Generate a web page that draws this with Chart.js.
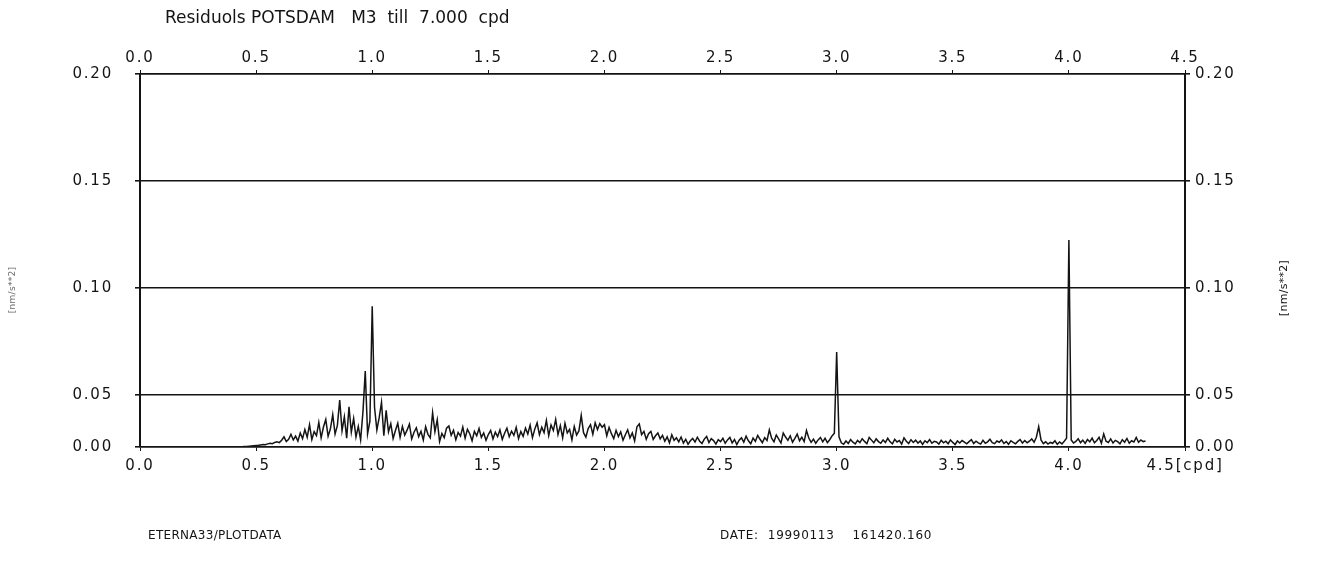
<!DOCTYPE html>
<html>
<head>
<meta charset="utf-8">
<title>Residuols POTSDAM</title>
<script src="https://cdn.jsdelivr.net/npm/chart.js@4.4.1/dist/chart.umd.min.js"></script>
<style>
  html, body { margin: 0; padding: 0; background: #fff; }
  #wrap { position: relative; width: 1325px; height: 576px; }
</style>
</head>
<body>
<div id="wrap"><canvas id="spectrum"></canvas></div>
<script>
// residual amplitude spectrum, 0.01 cpd spacing starting at 0.00 cpd  [nm/s**2]
const freqStart = 0.0;
const freqStep = 0.01;
const amplitude = [
  0, 0, 0, 0, 0, 0, 0, 0, 0, 0, 0, 0, 0, 0, 0, 0, 0, 0, 0, 0,
  0, 0, 0, 0, 0, 0, 0, 0, 0, 0, 0, 0, 0, 0, 0, 0, 0, 0, 0, 0,
  0, 0, 0, 0, .0003, .0005, .0006, .0008, .0010, .0012,
  .0014, .0016, .0020, .0024, .0022, .0030, .0036, .0032, .0044, .0050,
  .0042, .0065, .0098, .0052, .0074, .0122, .0068, .0105, .0056, .0134,
  .0081, .0168, .0094, .0215, .0072, .0148, .0110, .0236, .0088, .0192,
  .0264, .0102, .0175, .0312, .0124, .0208, .0452, .0156, .0290, .0084,
  .0386, .0142, .0275, .0096, .0198, .0068, .0335, .0612, .0126, .0248,
  .0915, .0380, .0164, .0282, .0430, .0108, .0352, .0146, .0224, .0082,
  .0158, .0228, .0092, .0198, .0115, .0162, .0220, .0078, .0142, .0185,
  .0100, .0152, .0068, .0195, .0122, .0088, .0330, .0148, .0262, .0052,
  .0130, .0090, .0182, .0202, .0112, .0160, .0070, .0140, .0105, .0192,
  .0085, .0170, .0128, .0060, .0150, .0108, .0178, .0092, .0135, .0065,
  .0120, .0160, .0078, .0142, .0100, .0165, .0072, .0132, .0180, .0098,
  .0152, .0112, .0188, .0080, .0148, .0102, .0182, .0125, .0210, .0090,
  .0172, .0232, .0118, .0190, .0138, .0255, .0110, .0212, .0158, .0265,
  .0120, .0205, .0088, .0228, .0135, .0170, .0068, .0198, .0115, .0155,
  .0304, .0138, .0095, .0178, .0215, .0122, .0232, .0168, .0225, .0190,
  .0215, .0108, .0188, .0128, .0080, .0160, .0100, .0145, .0065, .0118,
  .0165, .0088, .0135, .0058, .0195, .0222, .0118, .0150, .0075, .0128,
  .0150, .0072, .0108, .0135, .0078, .0112, .0055, .0098, .0040, .0118,
  .0064, .0088, .0050, .0096, .0038, .0074, .0026, .0060, .0082, .0048,
  .0094, .0056, .0034, .0076, .0102, .0042, .0080, .0062, .0028, .0070,
  .0052, .0084, .0036, .0068, .0092, .0040, .0072, .0024, .0066, .0088,
  .0046, .0104, .0060, .0032, .0086, .0054, .0112, .0074, .0042, .0090,
  .0062, .0164, .0084, .0050, .0116, .0078, .0038, .0134, .0096, .0064,
  .0108, .0046, .0082, .0124, .0060, .0094, .0052, .0158, .0086, .0044,
  .0076, .0036, .0068, .0092, .0050, .0084, .0042, .0070, .0106, .0132,
  .0701, .0098, .0040, .0026, .0058, .0034, .0072, .0046, .0030, .0064,
  .0042, .0080, .0054, .0032, .0092, .0066, .0040, .0078, .0052, .0036,
  .0068, .0044, .0084, .0050, .0030, .0074, .0048, .0062, .0028, .0088,
  .0056, .0034, .0070, .0044, .0066, .0038, .0058, .0026, .0060, .0042,
  .0072, .0036, .0054, .0048, .0028, .0064, .0040, .0056, .0032, .0068,
  .0044, .0024, .0058, .0038, .0062, .0046, .0030, .0052, .0070, .0034,
  .0056, .0040, .0028, .0064, .0036, .0050, .0074, .0042, .0032, .0058,
  .0046, .0068, .0034, .0052, .0026, .0060, .0044, .0030, .0054, .0072,
  .0038, .0062, .0040, .0056, .0078, .0046, .0094, .0196, .0068, .0032,
  .0050, .0028, .0044, .0036, .0060, .0026, .0048, .0030, .0056, .0084,
  .1224, .0068, .0038, .0054, .0080, .0042, .0066, .0034, .0072, .0050,
  .0086, .0040, .0062, .0094, .0036, .0126, .0056, .0044, .0078, .0038,
  .0064, .0052, .0030, .0070, .0046, .0082, .0036, .0060, .0048, .0092,
  .0046, .0068, .0052, .0058
];

const freqTicks = [0, 0.5, 1.0, 1.5, 2.0, 2.5, 3.0, 3.5, 4.0, 4.5];
const topFreqLabels = ['0.0', '0.5', '1.0', '1.5', '2.0', '2.5', '3.0', '3.5', '4.0', '4.5'];
const bottomFreqLabels = ['0.0', '0.5', '1.0', '1.5', '2.0', '2.5', '3.0', '3.5', '4.0', '4.5[cpd]'];
const ampTicks = [0, 0.05, 0.10, 0.15, 0.20];
const ampLabels = ['0.00', '0.05', '0.10', '0.15', '0.20'];

const titleText = 'Residuols POTSDAM   M3  till  7.000  cpd';
const footLeft = 'ETERNA33/PLOTDATA';
const footRight = 'DATE:  19990113    161420.160';
const unitText = '[nm/s**2]';

// the plotter squeezes the lowest 0.05 band into about half the height of the others
const BAND_TOP = 0.05;
const BAND_SHARE = 52 / 373;

class BandScale extends Chart.LinearScale {
  getPixelForValue(value) {
    if (value === null || value === undefined || isNaN(value)) return NaN;
    let dec;
    if (value <= BAND_TOP) {
      dec = (value - this.min) / (BAND_TOP - this.min) * BAND_SHARE;
    } else {
      dec = BAND_SHARE + (value - BAND_TOP) / (this.max - BAND_TOP) * (1 - BAND_SHARE);
    }
    return this.getPixelForDecimal(dec);
  }
  getValueForPixel(pixel) {
    const dec = this.getDecimalForPixel(pixel);
    if (dec <= BAND_SHARE) return this.min + dec / BAND_SHARE * (BAND_TOP - this.min);
    return BAND_TOP + (dec - BAND_SHARE) / (1 - BAND_SHARE) * (this.max - BAND_TOP);
  }
}
BandScale.id = 'band';
BandScale.defaults = {};
Chart.register(BandScale);

const points = amplitude.map((a, i) => ({
  x: Math.round((freqStart + i * freqStep) * 100) / 100,
  y: a
}));

const INK = '#141414';
const tickFont = { family: 'DejaVu Sans', size: 15 };

// texts around the frame: header, footer and unit captions
const sheetText = {
  id: 'sheetText',
  beforeDraw(chart) {
    chart.ctx.letterSpacing = '1.8px';
    chart.ctx.fillStyle = '#fff';
    chart.ctx.fillRect(0, 0, chart.width, chart.height);
  },
  afterDraw(chart) {
    const ctx = chart.ctx;
    ctx.save();
    ctx.fillStyle = INK;
    ctx.textBaseline = 'middle';
    ctx.textAlign = 'left';
    ctx.letterSpacing = '0px';
    ctx.font = '17px "DejaVu Sans"';
    ctx.fillText(titleText, 165, 19);

    ctx.letterSpacing = '0.3px';
    ctx.font = '12px "DejaVu Sans"';
    ctx.fillText(footLeft, 148, 536);
    ctx.letterSpacing = '0.7px';
    ctx.fillText(footRight, 720, 536);

    ctx.letterSpacing = '0.3px';
    ctx.textAlign = 'center';
    ctx.font = '11px "DejaVu Sans"';
    ctx.save();
    ctx.translate(1284, 288);
    ctx.rotate(-Math.PI / 2);
    ctx.fillText(unitText, 0, 0);
    ctx.restore();

    ctx.save();
    ctx.fillStyle = '#6a6a6a';
    ctx.font = '9px "DejaVu Sans"';
    ctx.translate(13, 290);
    ctx.rotate(-Math.PI / 2);
    ctx.fillText(unitText, 0, 0);
    ctx.restore();
    ctx.restore();
  }
};

function fixedTicks(values) {
  return scale => { scale.ticks = values.map(v => ({ value: v })); };
}

new Chart(document.getElementById('spectrum'), {
  type: 'line',
  data: {
    datasets: [{
      data: points,
      borderColor: INK,
      borderWidth: 1.5,
      pointRadius: 0,
      tension: 0,
      fill: false
    }]
  },
  options: {
    responsive: true,
    maintainAspectRatio: false,
    animation: false,
    parsing: false,
    layout: { padding: 0 },
    plugins: {
      legend: { display: false },
      tooltip: { enabled: false },
      title: { display: false }
    },
    scales: {
      x: {
        type: 'linear',
        position: 'bottom',
        min: 0,
        max: 4.5,
        afterBuildTicks: fixedTicks(freqTicks),
        afterFit(scale) { scale.height = 129; },
        grid: { drawOnChartArea: false, tickLength: 4, color: INK, lineWidth: 1 },
        border: { color: INK, width: 1.5 },
        ticks: {
          color: INK, font: tickFont, padding: 6, maxRotation: 0, autoSkip: false,
          callback: (v, i) => bottomFreqLabels[i]
        }
      },
      xTop: {
        type: 'linear',
        position: 'top',
        min: 0,
        max: 4.5,
        afterBuildTicks: fixedTicks(freqTicks),
        afterFit(scale) { scale.height = 74; },
        grid: { drawOnChartArea: false, tickLength: 4, color: INK, lineWidth: 1 },
        border: { color: INK, width: 1.5 },
        ticks: {
          color: INK, font: tickFont, padding: 3, maxRotation: 0, autoSkip: false,
          callback: (v, i) => topFreqLabels[i]
        }
      },
      y: {
        type: 'band',
        position: 'left',
        min: 0,
        max: 0.2,
        afterBuildTicks: fixedTicks(ampTicks),
        afterFit(scale) { scale.width = 140; },
        grid: { color: INK, lineWidth: 1.6, tickLength: 5 },
        border: { color: INK, width: 2 },
        ticks: {
          color: INK, font: tickFont, padding: 22, autoSkip: false,
          callback: (v, i) => ampLabels[i]
        }
      },
      yRight: {
        type: 'band',
        position: 'right',
        min: 0,
        max: 0.2,
        afterBuildTicks: fixedTicks(ampTicks),
        afterFit(scale) { scale.width = 140; },
        grid: { drawOnChartArea: false, color: INK, lineWidth: 1.6, tickLength: 5 },
        border: { color: INK, width: 2 },
        ticks: {
          color: INK, font: tickFont, padding: 5, autoSkip: false,
          callback: (v, i) => ampLabels[i]
        }
      }
    }
  },
  plugins: [sheetText]
});
</script>
</body>
</html>
